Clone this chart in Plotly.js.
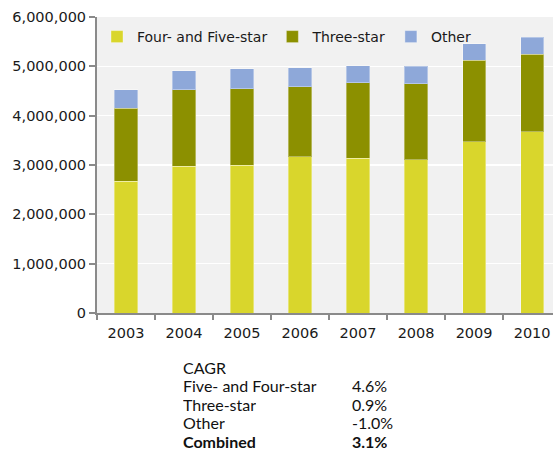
<!DOCTYPE html>
<html>
<head>
<meta charset="utf-8">
<script src="https://cdn.plot.ly/plotly-3.0.1.min.js"></script>
<style>html,body{margin:0;padding:0;background:#fff;}#chart{width:553px;height:450px;}</style>
</head>
<body>
<div id="chart"></div>
<script>
const years = ['2003','2004','2005','2006','2007','2008','2009','2010'];
const fourFiveStar = [2670000, 2970000, 3000000, 3170000, 3140000, 3110000, 3470000, 3670000];
const threeStar   = [1480000, 1560000, 1550000, 1420000, 1530000, 1540000, 1650000, 1570000];
const other       = [ 380000,  380000,  400000,  380000,  340000,  350000,  340000,  350000];
const seriesNames = ['Four- and Five-star', 'Three-star', 'Other'];
const cagrTitle = 'CAGR';
const cagrLabels = ['Five- and Four-star', 'Three-star', 'Other', 'Combined'];
const cagrValues = ['4.6%', '0.9%', '-1.0%', '3.1%'];

const colors = ['#d9d62c', '#8c9000', '#8ea8d9'];
const tickFont = {family: 'DejaVu Sans, Verdana, sans-serif', size: 14.5, color: '#1a1a1a'};
const legendFont = {family: 'DejaVu Sans, Verdana, sans-serif', size: 14, color: '#1a1a1a'};

const traces = [fourFiveStar, threeStar, other].map((vals, i) => ({
  type: 'bar', x: years, y: vals, name: seriesNames[i],
  marker: {color: colors[i], line: {color: 'rgba(255,255,255,0.35)', width: 1}},
  hoverinfo: 'skip'
}));

const annFont = {family: 'Lato, Calibri, sans-serif', size: 16, color: '#111'};
const lineStep = 18.5 / 296;
const topY = (313 - 366.5) / 296;
const labelX = (181 - 97) / 456;
const valueX = (350 - 97) / 456;
const annBase = {xref: 'paper', yref: 'paper', xanchor: 'left', yanchor: 'middle', height: 14,
  valign: 'middle', showarrow: false, font: annFont};
const annotations = [Object.assign({}, annBase, {x: labelX, y: topY, text: cagrTitle})];
cagrLabels.forEach((lab, i) => {
  const bold = i === cagrLabels.length - 1;
  const y = topY - (i + 1) * lineStep;
  annotations.push(Object.assign({}, annBase, {x: labelX, y: y, text: bold ? '<b>' + lab + '</b>' : lab}));
  annotations.push(Object.assign({}, annBase, {x: valueX, y: y, text: bold ? '<b>' + cagrValues[i] + '</b>' : cagrValues[i]}));
});

const layout = {
  width: 553, height: 450,
  margin: {l: 97, r: 0, t: 17, b: 137, pad: 0},
  paper_bgcolor: '#ffffff', plot_bgcolor: '#f1f1f1',
  barmode: 'stack', bargap: 0.6,
  showlegend: true,
  legend: {orientation: 'h', x: 0, y: 1 - 4 / 296, xanchor: 'left', yanchor: 'top',
    bgcolor: 'rgba(0,0,0,0)', font: legendFont, traceorder: 'normal', itemwidth: 30},
  xaxis: {type: 'category', range: [-0.5, 7.36], tickson: 'boundaries', ticks: 'outside', ticklen: 5,
    tickcolor: '#8a8a8a', tickwidth: 2, showline: true, linecolor: '#8a8a8a', linewidth: 2,
    showgrid: false, tickfont: tickFont, ticklabelstandoff: 6, fixedrange: true},
  yaxis: {range: [0, 6000000], dtick: 1000000, tickformat: ',d', showgrid: true, gridcolor: '#ffffff', gridwidth: 1.5,
    showline: true, linecolor: '#8a8a8a', linewidth: 2, ticks: 'outside', ticklen: 6, tickcolor: '#8a8a8a', tickwidth: 2,
    zeroline: false, tickfont: tickFont, fixedrange: true},
  annotations: annotations
};

Plotly.newPlot('chart', traces, layout, {displayModeBar: false, staticPlot: true});
</script>
</body>
</html>
